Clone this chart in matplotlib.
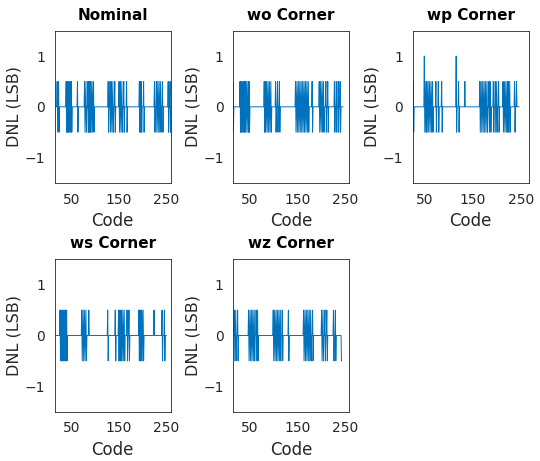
import numpy as np
import matplotlib
matplotlib.use("Agg")
import matplotlib.pyplot as plt

# DNL: codes with +0.5 (hi), -0.5 (lo), +1 (top)
titles = ["Nominal", "wo Corner", "wp Corner", "ws Corner", "wz Corner"]

nom_hi = [19, 22, 38, 40, 42, 44, 47, 49, 62, 77, 80, 84, 86, 88, 90, 93, 96,
          127, 131, 134, 137, 141, 150, 153, 156, 160, 166, 193, 195, 197, 202,
          225, 229, 232, 235, 238, 242, 254, 258]
nom_lo = [20, 23, 39, 41, 43, 45, 48, 50, 63, 78, 81, 85, 87, 89, 91, 94, 97,
          128, 132, 135, 138, 142, 151, 154, 157, 161, 167, 194, 196, 198, 203,
          226, 230, 233, 236, 239, 243, 255, 259]
nom_top = []
nom_end = 260

wo_hi = [14, 29, 31, 33, 36, 38, 40, 43, 46, 48, 80, 82, 85, 88, 91, 94,
         104, 108, 112, 146, 149, 152, 155, 158, 161, 164, 167, 170, 173, 181,
         196, 199, 202, 205, 210, 214, 228, 232, 236, 240]
wo_lo = [15, 30, 32, 34, 37, 39, 41, 44, 47, 49, 81, 83, 86, 89, 92, 95,
         105, 109, 113, 147, 150, 153, 156, 159, 162, 165, 168, 171, 174, 182,
         197, 200, 203, 206, 211, 215, 229, 233, 237, 241]
wo_top = []
wo_end = 246

wp_hi = [27, 53, 55, 58, 61, 64, 67, 74, 79, 86, 121, 134, 165, 168, 171, 174,
         177, 180, 184, 187, 193, 197, 200, 204, 213, 216, 219, 222, 224, 227,
         237, 241]
wp_lo = [28, 51, 54, 56, 59, 62, 65, 68, 75, 80, 87, 117, 122, 166, 169, 172,
         175, 178, 181, 185, 188, 194, 198, 201, 205, 214, 217, 220, 223, 225,
         228, 238]
wp_top = [50, 116]
wp_end = 246

ws_hi = [25, 27, 29, 31, 33, 35, 37, 39, 71, 74, 77, 80, 86, 126, 142, 149, 151,
         153, 155, 158, 161, 167, 171, 192, 194, 196, 198, 201, 224, 241, 246]
ws_lo = [26, 28, 30, 32, 34, 36, 38, 40, 72, 75, 78, 81, 127, 143, 150, 152,
         154, 156, 159, 162, 168, 172, 193, 195, 197, 199, 202, 242, 247]
ws_top = []
ws_end = 250

wz_hi = [17, 20, 24, 47, 50, 53, 56, 59, 63, 66, 99, 102, 105, 108, 111, 114,
         118, 131, 163, 166, 169, 172, 175, 178, 182, 201, 204, 208, 212, 226, 230]
wz_lo = [18, 21, 25, 48, 51, 54, 57, 60, 64, 67, 100, 103, 106, 109, 112, 115,
         119, 132, 164, 167, 170, 173, 176, 179, 183, 202, 205, 209, 213, 227,
         231, 243]
wz_top = []
wz_end = 243

xlims = [(13.8, 259), (14.8, 259), (26, 266), (13.8, 259), (14.8, 259)]

series = [(nom_hi, nom_lo, nom_top, nom_end),
          (wo_hi, wo_lo, wo_top, wo_end),
          (wp_hi, wp_lo, wp_top, wp_end),
          (ws_hi, ws_lo, ws_top, ws_end),
          (wz_hi, wz_lo, wz_top, wz_end)]

plt.rcParams['font.family'] = ['DejaVu Sans']
fig = plt.figure(figsize=(5.4, 4.61), dpi=100)

W = 0.2145
H = 0.3305
positions = [(0.1013, 0.6030), (0.4320, 0.6030), (0.7643, 0.6030),
             (0.1013, 0.1070), (0.4320, 0.1070)]
edge = "#262626"

for i in range(5):
    hi, lo, top, end = series[i]
    code = np.arange(1, end + 1)
    dnl = np.zeros(len(code))
    for c in hi:
        dnl[c - 1] = 0.5
    for c in lo:
        dnl[c - 1] = -0.5
    for c in top:
        dnl[c - 1] = 1.0

    ax = fig.add_axes([positions[i][0], positions[i][1], W, H])
    ax.plot(code, dnl, color="#0072BD", lw=0.7)
    ax.set_xlim(xlims[i])
    ax.set_ylim(-1.5, 1.5)
    ax.set_xticks([50, 150, 250])
    ax.set_yticks([-1, 0, 1])
    ax.tick_params(direction="in", length=0, labelsize=10,
                   colors=edge, pad=7)
    for s in ax.spines.values():
        s.set_color(edge)
        s.set_linewidth(0.6)
    ax.set_title(titles[i], fontsize=11, fontweight="bold", pad=8)
    ax.set_xlabel("Code", fontsize=12, color=edge, labelpad=4)
    ax.set_ylabel("DNL (LSB)", fontsize=11.5, color=edge, labelpad=2)

fig.savefig("out.png", dpi=100)
